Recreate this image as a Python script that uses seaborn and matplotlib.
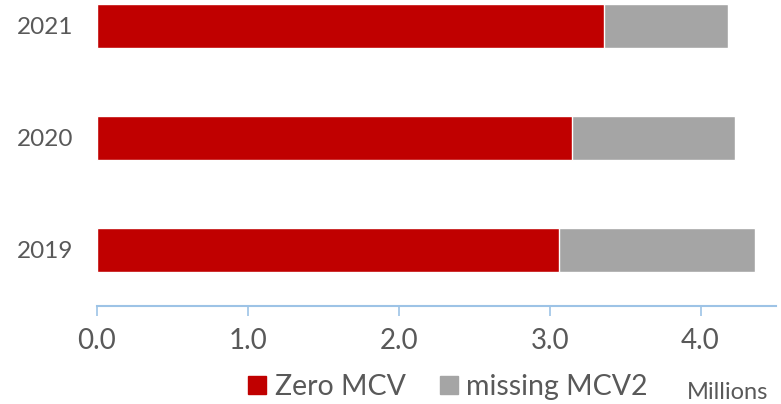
import matplotlib
matplotlib.use("Agg")
import matplotlib.pyplot as plt
from matplotlib.patches import Patch
import pandas as pd
import seaborn as sns

years = ["2021", "2020", "2019"]
zero_mcv = [3.36, 3.15, 3.06]
missing_mcv2 = [0.82, 1.08, 1.30]
x_ticks = [0.0, 1.0, 2.0, 3.0, 4.0]

red = "#C00000"
grey = "#A5A5A5"
text_col = "#595959"

df = pd.DataFrame({
    "year": years,
    "zero": zero_mcv,
    "missing": missing_mcv2,
})
df["total"] = df["zero"] + df["missing"]

sns.set_style("white")
plt.rcParams["font.family"] = ["Lato", "DejaVu Sans"]

fig = plt.figure(figsize=(7.81, 4.04), dpi=100)
ax = fig.add_axes([97 / 781, 98 / 404, 679 / 781, 336 / 404])

sns.barplot(data=df, y="year", x="total", order=years, color=grey,
            width=0.39, saturation=1, ax=ax)
sns.barplot(data=df, y="year", x="zero", order=years, color=red,
            width=0.39, saturation=1, ax=ax)

ax.set_xlim(0, 4.5)
ax.set_ylim(2.5, -0.5)
ax.set_xticks(x_ticks)
ax.set_xticklabels([f"{t:.1f}" for t in x_ticks])
ax.set_xlabel("")
ax.set_ylabel("")

for s in ["top", "right", "left"]:
    ax.spines[s].set_visible(False)
ax.spines["bottom"].set_color("#9DC3E6")
ax.spines["bottom"].set_linewidth(1.5)

ax.tick_params(axis="x", direction="out", length=7, width=1.2,
               color="#9DC3E6", labelsize=20, labelcolor=text_col, pad=9,
               bottom=True)
ax.tick_params(axis="y", length=0, labelsize=17.5, labelcolor=text_col,
               pad=17)

handles = [Patch(color=red, label="Zero MCV"),
           Patch(color=grey, label="missing MCV2")]
fig.legend(handles=handles, loc="center", bbox_to_anchor=(448 / 781, 1 - 387 / 404),
           ncol=2, frameon=False, fontsize=20.5, labelcolor=text_col,
           handlelength=0.64, handleheight=0.64, handletextpad=0.3,
           columnspacing=1.2, borderpad=0)

fig.text(687 / 781, 1 - 399 / 404, "Millions", fontsize=17, color=text_col,
         ha="left", va="baseline")

fig.savefig("out.png", dpi=100)
